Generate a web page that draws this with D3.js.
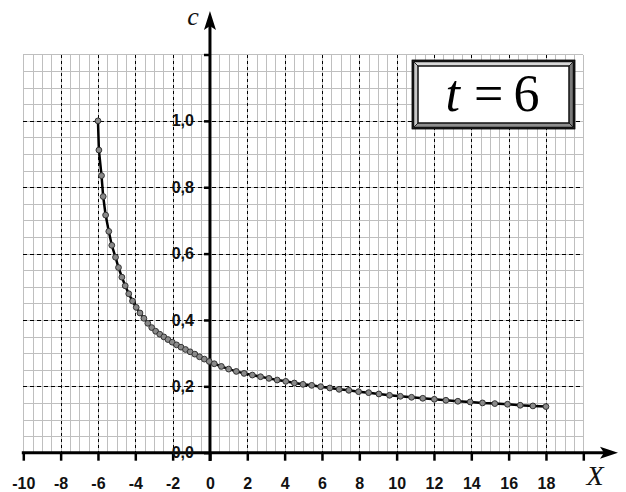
<!DOCTYPE html>
<html>
<head>
<meta charset="utf-8">
<script src="https://cdn.jsdelivr.net/npm/d3@7/dist/d3.min.js"></script>
<style>
  html, body { margin: 0; padding: 0; background: #fff; }
  svg { display: block; }
</style>
</head>
<body>
<script>
// Concentration profile c(X) at t = 6
const xValues = [
  -6.00, -5.95, -5.81, -5.72, -5.59, -5.42, -5.26, -5.06, -4.90, -4.72,
  -4.54, -4.35, -4.15, -3.95, -3.75, -3.54, -3.33, -3.12, -2.91, -2.69,
  -2.47, -2.25, -2.02, -1.79, -1.55, -1.31, -1.06, -0.81, -0.56, -0.30,
  -0.04, 0.23, 0.61, 1.00, 1.41, 1.83, 2.27, 2.71, 3.16, 3.60,
  4.06, 4.52, 4.98, 5.45, 5.93, 6.42, 6.92, 7.44, 7.96, 8.50,
  9.05, 9.62, 10.20, 10.80, 11.40, 12.02, 12.64, 13.28, 13.94, 14.60,
  15.26, 15.94, 16.62, 17.30, 18.00
];
const cValues = [
  1.000, 0.912, 0.835, 0.772, 0.716, 0.667, 0.625, 0.589, 0.558, 0.529,
  0.503, 0.479, 0.457, 0.438, 0.421, 0.405, 0.390, 0.377, 0.366, 0.357,
  0.349, 0.341, 0.333, 0.325, 0.318, 0.311, 0.304, 0.297, 0.289, 0.282,
  0.275, 0.268, 0.260, 0.252, 0.245, 0.239, 0.234, 0.229, 0.224, 0.219,
  0.215, 0.210, 0.206, 0.203, 0.199, 0.195, 0.191, 0.188, 0.184, 0.181,
  0.177, 0.173, 0.170, 0.167, 0.164, 0.161, 0.158, 0.155, 0.153, 0.150,
  0.148, 0.146, 0.143, 0.141, 0.139
];

// Axis ticks and labels
const xTicks = [-10, -8, -6, -4, -2, 0, 2, 4, 6, 8, 10, 12, 14, 16, 18, 20];
const xTickLabels = ["-10", "-8", "-6", "-4", "-2", "0", "2", "4", "6", "8", "10", "12", "14", "16", "18", ""];
const cTicks = [0, 0.2, 0.4, 0.6, 0.8, 1.0, 1.2];
const cTickLabels = ["0,0", "0,2", "0,4", "0,6", "0,8", "1,0", ""];
const xMinorStep = 0.5;
const cMinorStep = 0.05;
const xLabel = "X";
const cLabel = "c";
const boxTitle = { name: "t", sign: "=", value: "6" };

const W = 626, H = 492;
const svg = d3.select("body").append("svg").attr("width", W).attr("height", H);

const x = d3.scaleLinear().domain([-10, 20]).range([23.3, 583.3]);
const y = d3.scaleLinear().domain([0, 1.2]).range([452.7, 54.5]);

const labelFont = "'Liberation Sans', Arial, sans-serif";
const serifFont = "'Liberation Serif', 'Times New Roman', serif";

// Fine grid
const grid = svg.append("g").attr("shape-rendering", "crispEdges");
const xMinor = d3.range(-10, 20 + 1e-9, xMinorStep);
const cMinor = d3.range(0, 1.2 + 1e-9, cMinorStep);
grid.selectAll("line.vx").data(xMinor).join("line")
  .attr("x1", d => Math.round(x(d)) + 0.5).attr("x2", d => Math.round(x(d)) + 0.5)
  .attr("y1", y(1.2)).attr("y2", y(0))
  .attr("stroke", "#bfbfbf").attr("stroke-width", 1);
grid.selectAll("line.hy").data(cMinor).join("line")
  .attr("y1", d => Math.round(y(d)) + 0.5).attr("y2", d => Math.round(y(d)) + 0.5)
  .attr("x1", x(-10)).attr("x2", x(20))
  .attr("stroke", "#bfbfbf").attr("stroke-width", 1);

// Major dashed grid
grid.selectAll("line.mx").data(xTicks.filter(d => d !== -10 && d !== 0 && d !== 20)).join("line")
  .attr("x1", d => Math.round(x(d)) + 0.5).attr("x2", d => Math.round(x(d)) + 0.5)
  .attr("y1", y(1.2)).attr("y2", y(0))
  .attr("stroke", "#000").attr("stroke-width", 1).attr("stroke-dasharray", "3,3");
grid.selectAll("line.my").data(cTicks.filter(d => d > 0 && d < 1.2)).join("line")
  .attr("y1", d => Math.round(y(d)) + 0.5).attr("y2", d => Math.round(y(d)) + 0.5)
  .attr("x1", x(-10)).attr("x2", x(20))
  .attr("stroke", "#000").attr("stroke-width", 1).attr("stroke-dasharray", "4,3");

// Parameter box
const bx = 413, by = 61, bw = 161, bh = 67, inset = 5;
const box = svg.append("g");
box.append("rect").attr("x", bx).attr("y", by).attr("width", bw).attr("height", bh)
  .attr("fill", "#9a9a9a").attr("stroke", "#111").attr("stroke-width", 2.5);
// bevel faces
const ox1 = bx, oy1 = by, ox2 = bx + bw, oy2 = by + bh;
const ix1 = bx + inset, iy1 = by + inset, ix2 = bx + bw - inset, iy2 = by + bh - inset;
box.append("polygon").attr("points", [[ox1,oy1],[ox2,oy1],[ix2,iy1],[ix1,iy1]].join(" ")).attr("fill", "#d8d8d8");
box.append("polygon").attr("points", [[ox1,oy1],[ix1,iy1],[ix1,iy2],[ox1,oy2]].join(" ")).attr("fill", "#c8c8c8");
box.append("polygon").attr("points", [[ox2,oy1],[ox2,oy2],[ix2,iy2],[ix2,iy1]].join(" ")).attr("fill", "#7a7a7a");
box.append("polygon").attr("points", [[ox1,oy2],[ix1,iy2],[ix2,iy2],[ox2,oy2]].join(" ")).attr("fill", "#8e8e8e");
box.append("rect").attr("x", bx).attr("y", by).attr("width", bw).attr("height", bh)
  .attr("fill", "none").attr("stroke", "#111").attr("stroke-width", 2.5);
[[ox1,oy1,ix1,iy1],[ox2,oy1,ix2,iy1],[ox1,oy2,ix1,iy2],[ox2,oy2,ix2,iy2]].forEach(p => {
  box.append("line").attr("x1", p[0]).attr("y1", p[1]).attr("x2", p[2]).attr("y2", p[3])
    .attr("stroke", "#222").attr("stroke-width", 1);
});
box.append("rect").attr("x", ix1).attr("y", iy1).attr("width", ix2 - ix1).attr("height", iy2 - iy1)
  .attr("fill", "#fff").attr("stroke", "#111").attr("stroke-width", 1.5);
const title = box.append("text").attr("x", bx + bw / 2 - 1).attr("y", by + 50)
  .attr("text-anchor", "middle").attr("font-family", serifFont).attr("font-size", 52).attr("fill", "#000");
title.append("tspan").attr("font-style", "italic").text(boxTitle.name);
title.append("tspan").attr("dx", 14).text(boxTitle.sign);
title.append("tspan").attr("dx", 10).text(boxTitle.value);

// Axes lines with arrowheads
const axes = svg.append("g");
const ax0 = y(0), ay0 = x(0);
axes.append("line").attr("x1", x(-10) - 1.5).attr("x2", 608).attr("y1", ax0).attr("y2", ax0)
  .attr("stroke", "#000").attr("stroke-width", 3);
axes.append("path").attr("d", `M618,${ax0} L600,${ax0 - 6} L604,${ax0} L600,${ax0 + 6} Z`).attr("fill", "#000");
axes.append("line").attr("x1", ay0).attr("x2", ay0).attr("y1", 461).attr("y2", 22)
  .attr("stroke", "#000").attr("stroke-width", 3);
axes.append("path").attr("d", `M${ay0},11 L${ay0 - 6},30 L${ay0},26 L${ay0 + 6},30 Z`).attr("fill", "#000");

// X axis ticks + labels
const xAxis = d3.axisBottom(x).tickValues(xTicks).tickSize(8).tickPadding(17)
  .tickFormat((d, i) => xTickLabels[i]);
const gx = svg.append("g").attr("transform", `translate(0,${ax0})`).call(xAxis);
gx.select(".domain").remove();
gx.selectAll(".tick line").attr("stroke", "#000").attr("stroke-width", 2.5);
gx.selectAll(".tick text").attr("font-family", labelFont).attr("font-weight", "bold")
  .attr("font-size", 16).attr("fill", "#111");

// C axis ticks + labels
const cAxis = d3.axisLeft(y).tickValues(cTicks).tickSize(6).tickPadding(10)
  .tickFormat((d, i) => cTickLabels[i]);
const gy = svg.append("g").attr("transform", `translate(${ay0},0)`).call(cAxis);
gy.select(".domain").remove();
gy.selectAll(".tick line").attr("stroke", "#000").attr("stroke-width", 2.5);
gy.selectAll(".tick text").attr("font-family", labelFont).attr("font-weight", "bold")
  .attr("font-size", 16).attr("fill", "#111");

// Axis names
svg.append("text").attr("x", 193).attr("y", 25).attr("text-anchor", "middle")
  .attr("font-family", serifFont).attr("font-style", "italic").attr("font-size", 26)
  .attr("fill", "#111").text(cLabel);
svg.append("text").attr("x", 595).attr("y", 485).attr("text-anchor", "middle")
  .attr("font-family", serifFont).attr("font-style", "italic").attr("font-size", 28)
  .attr("fill", "#111").text(xLabel);

// Curve and markers
const pts = xValues.map((v, i) => [v, cValues[i]]);
svg.append("path").datum(pts)
  .attr("d", d3.line().x(d => x(d[0])).y(d => y(d[1])))
  .attr("fill", "none").attr("stroke", "#000").attr("stroke-width", 2.5);
svg.append("g").selectAll("circle").data(pts).join("circle")
  .attr("cx", d => x(d[0])).attr("cy", d => y(d[1])).attr("r", 2.9)
  .attr("fill", "#8a8a8a").attr("stroke", "#333").attr("stroke-width", 1);
</script>
</body>
</html>
